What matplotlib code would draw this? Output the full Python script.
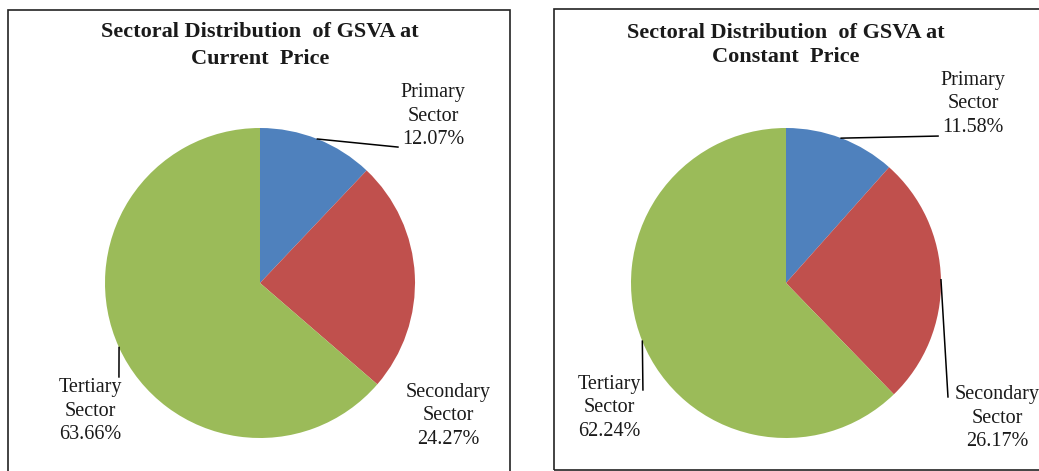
import numpy as np
import matplotlib.pyplot as plt
from matplotlib.patches import Rectangle

sectors = ["Primary\nSector", "Secondary\nSector", "Tertiary\nSector"]
current_share = [12.07, 24.27, 63.66]
constant_share = [11.58, 26.17, 62.24]
titles = [
    "Sectoral Distribution  of GSVA at\nCurrent  Price",
    "Sectoral Distribution  of GSVA at\nConstant  Price",
]
colors = ["#4F81BD", "#C0504D", "#9BBB59"]

W, H = 1039, 471
plt.rcParams["font.family"] = ["Liberation Serif", "DejaVu Serif"]
fig = plt.figure(figsize=(W / 100, H / 100), dpi=100)


def px_axes(cx, cy, r):
    # square axes around a pie centre given in pixels
    return fig.add_axes([(cx - r) / W, (H - cy - r) / H, 2 * r / W, 2 * r / H])


# panel frames
fig.add_artist(Rectangle((8 / W, -0.05), 502 / W, (H - 10) / H + 0.05,
                         transform=fig.transFigure, fill=False, lw=1.2, ec="#222222"))
fig.add_artist(Rectangle((554 / W, 1 - 470 / H), 0.5, (470 - 9) / H,
                         transform=fig.transFigure, fill=False, lw=1.2, ec="#222222"))

panels = [
    # centre x, centre y, radius, title y, label positions, leader ends
    dict(values=current_share, cx=260, cy=283, r=155, title_y=[32, 59],
         label_xy=[(1.116, 1.077), (1.213, -0.858), (-1.097, -0.826)],
         leader_end=[(0.890, 0.877), None, (-0.910, -0.606)]),
    dict(values=constant_share, cx=786, cy=283, r=155, title_y=[33, 57],
         label_xy=[(1.206, 1.155), (1.361, -0.871), (-1.142, -0.806)],
         leader_end=[(0.981, 0.948), (1.045, -0.735), (-0.923, -0.690)]),
]

for p, title in zip(panels, titles):
    ax = px_axes(p["cx"], p["cy"], p["r"])
    wedges, _ = ax.pie(p["values"], colors=colors, startangle=90,
                       counterclock=False, radius=1.0,
                       wedgeprops=dict(linewidth=0))
    ax.set_xlim(-1, 1)
    ax.set_ylim(-1, 1)
    ax.set_aspect("equal")
    ax.axis("off")

    for w, name, val, xy, end in zip(wedges, sectors, p["values"],
                                     p["label_xy"], p["leader_end"]):
        mid = np.deg2rad((w.theta1 + w.theta2) / 2)
        ax.text(xy[0], xy[1], f"{name}\n{val:.2f}%", ha="center", va="center",
                fontsize=14.5, color="#1a1a1a", linespacing=1.35)
        if end is not None:
            ax.plot([np.cos(mid), end[0]], [np.sin(mid), end[1]],
                    color="black", lw=1.1, clip_on=False)

    line1, line2 = title.split("\n")
    fig.text(p["cx"] / W, 1 - p["title_y"][0] / H, line1, ha="center",
             va="center", fontsize=16, fontweight="bold", color="#1a1a1a")
    fig.text(p["cx"] / W, 1 - p["title_y"][1] / H, line2, ha="center",
             va="center", fontsize=16, fontweight="bold", color="#1a1a1a")

fig.savefig("out.png", dpi=100)
